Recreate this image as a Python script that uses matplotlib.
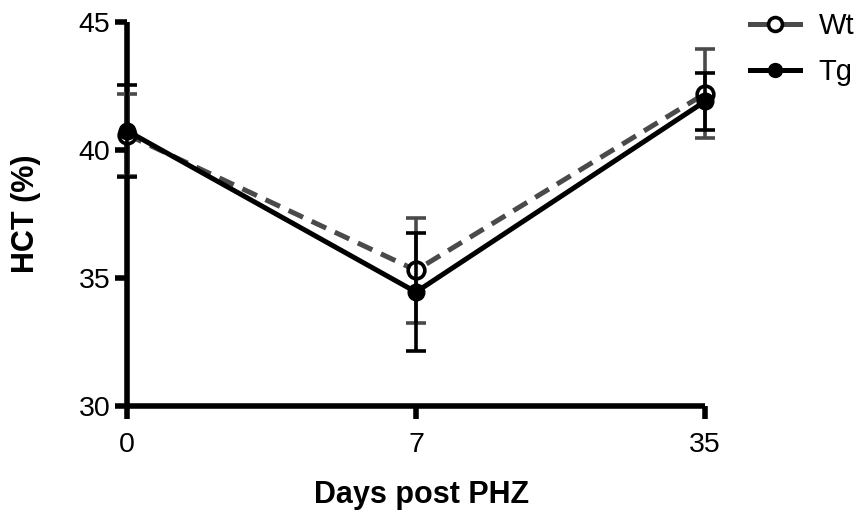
import numpy as np
import matplotlib
matplotlib.use('Agg')
import matplotlib.pyplot as plt
from matplotlib.lines import Line2D

plt.rcParams['font.family'] = ['Liberation Sans', 'DejaVu Sans']

days = ['0', '7', '35']
wt_mean = [40.6, 35.3, 42.2]
wt_err = [1.6, 2.05, 1.75]
tg_mean = [40.75, 34.45, 41.9]
tg_err = [1.8, 2.3, 1.1]

wt_col = '#4a4a4a'
x = np.arange(len(days))

fig = plt.figure(figsize=(8.61, 5.15), dpi=100)
ax = fig.add_axes([0.1475, 0.2117, 0.6713, 0.7456])

ax.errorbar(x, wt_mean, yerr=wt_err, color=wt_col, ls='--', lw=3.6,
            marker='o', ms=12, mfc='white', mec='black', mew=2.6,
            elinewidth=2.6, capsize=7, capthick=2.6, dashes=(3.2, 1.9),
            clip_on=False, zorder=3)
ax.errorbar(x, tg_mean, yerr=tg_err, color='black', ls='-', lw=3.6,
            marker='o', ms=12, mfc='black', mec='black',
            elinewidth=2.6, capsize=7, capthick=2.6,
            clip_on=False, zorder=4)

ax.set_xlim(0, 2)
ax.set_ylim(30, 45)
ax.set_xticks(x)
ax.set_xticklabels(days)
ax.set_yticks([30, 35, 40, 45])

for s in ['top', 'right']:
    ax.spines[s].set_visible(False)
for s in ['left', 'bottom']:
    ax.spines[s].set_linewidth(4)
    ax.spines[s].set_capstyle('butt')

ax.tick_params(axis='both', width=4, length=9, labelsize=20.5, direction='out')
ax.tick_params(axis='y', pad=3)
ax.tick_params(axis='x', pad=10)

ax.set_xlabel('Days post PHZ', fontsize=22, fontweight='bold')
ax.set_ylabel('HCT (%)', fontsize=22, fontweight='bold')
ax.xaxis.set_label_coords(0.509, -0.193)
ax.yaxis.set_label_coords(-0.149, 0.5)

handles = [
    Line2D([], [], color=wt_col, lw=3.6, marker='o', ms=10, mfc='white',
           mec='black', mew=2.6),
    Line2D([], [], color='black', lw=3.6, marker='o', ms=10, mfc='black',
           mec='black'),
]
fig.legend(handles, ['Wt', 'Tg'], loc='upper left', bbox_to_anchor=(0.871, 0.977),
           frameon=False, fontsize=21, handlelength=1.71, handletextpad=0.65,
           labelspacing=0.63, borderpad=0, borderaxespad=0)

plt.savefig('out.png', dpi=100)
